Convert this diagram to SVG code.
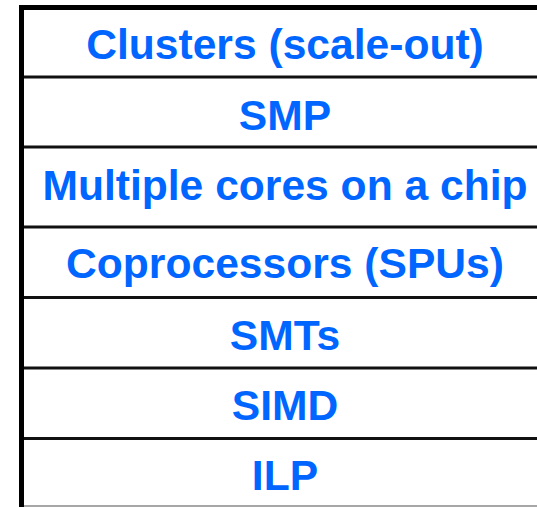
<svg xmlns="http://www.w3.org/2000/svg" width="537" height="507" viewBox="0 0 537 507">
  <style>
    .frame { fill: none; stroke: #000; stroke-width: 5; }
    .rule { stroke: #111; stroke-width: 3; }
    .label { font-family: "Liberation Sans", Arial, sans-serif; font-weight: bold; font-size: 42.6px; fill: #0066ff; text-anchor: middle; }
  </style>
  <rect width="537" height="507" fill="#fff"/>
  <!-- outer frame: top and left edges -->
  <path class="frame" d="M21.5 507 V7.5 H537"/>
  <!-- row separators -->
  <g id="connectors">
    <line class="rule" x1="24" y1="77" x2="537" y2="77"/>
    <line class="rule" x1="24" y1="147" x2="537" y2="147"/>
    <line class="rule" x1="24" y1="227" x2="537" y2="227"/>
    <line class="rule" x1="24" y1="297.5" x2="537" y2="297.5"/>
    <line class="rule" x1="24" y1="368" x2="537" y2="368"/>
    <line class="rule" x1="24" y1="438.5" x2="537" y2="438.5"/>
    <line x1="24" y1="506" x2="537" y2="506" stroke="#888" stroke-width="1.5"/>
  </g>
  <g id="clusters"><text class="label" x="285" y="59">Clusters (scale-out)</text></g>
  <g id="smp"><text class="label" x="285" y="130">SMP</text></g>
  <g id="multicore"><text class="label" x="285" y="200">Multiple cores on a chip</text></g>
  <g id="coprocessors"><text class="label" x="285" y="278">Coprocessors (SPUs)</text></g>
  <g id="smts"><text class="label" x="285" y="350">SMTs</text></g>
  <g id="simd"><text class="label" x="285" y="420">SIMD</text></g>
  <g id="ilp"><text class="label" x="285" y="490">ILP</text></g>
</svg>
